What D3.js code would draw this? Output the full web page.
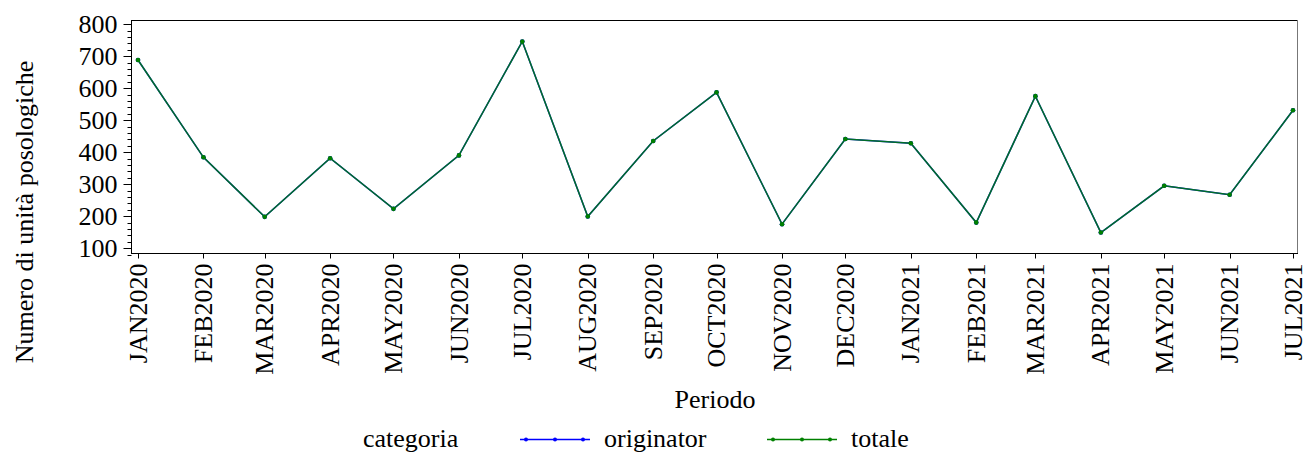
<!DOCTYPE html>
<html><head><meta charset="utf-8">
<script src="https://cdn.jsdelivr.net/npm/d3@7"></script>
<style>body{margin:0;background:#fff}svg{display:block}svg text{font-family:'Liberation Serif','DejaVu Serif',serif;fill:#000}</style>
</head><body>
<script>
const periods = ["JAN2020","FEB2020","MAR2020","APR2020","MAY2020","JUN2020","JUL2020","AUG2020","SEP2020","OCT2020","NOV2020","DEC2020","JAN2021","FEB2021","MAR2021","APR2021","MAY2021","JUN2021","JUL2021"];
const originator = [688,384,198,381,223,390,746,199,435,587,175,441,428,180,575,149,295,267,531];
const totale     = [688,384,198,381,223,390,746,199,435,587,175,441,428,180,575,149,295,267,531];
const yTicks = [100,200,300,400,500,600,700,800];
const seriesNames = ["originator","totale"];
const seriesColors = ["#0000ff","#008000"];

const W = 1303, H = 453;
const FONT = "Liberation Serif, DejaVu Serif, serif";
const frame = {left:131, right:1298, top:20, bottom:253};
const mon = {JAN:0,FEB:1,MAR:2,APR:3,MAY:4,JUN:5,JUL:6,AUG:7,SEP:8,OCT:9,NOV:10,DEC:11};
const parse = s => new Date(+s.slice(3), mon[s.slice(0,3)], 1);
const dates = periods.map(parse);

const svg = d3.select("body").append("svg").attr("width",W).attr("height",H)
  .attr("font-family",FONT);
const x = d3.scaleTime().domain([dates[0], dates[dates.length-1]]).range([138,1293]);
const y = d3.scaleLinear().domain([85,813]).range([frame.bottom, frame.top]);

// frame
svg.append("line").attr("x1",frame.left).attr("x2",frame.right).attr("y1",frame.top+0.5).attr("y2",frame.top+0.5).attr("stroke","#000").attr("stroke-width",1);
svg.append("line").attr("x1",frame.right-0.5).attr("x2",frame.right-0.5).attr("y1",frame.top).attr("y2",frame.bottom).attr("stroke","#777").attr("stroke-width",1);

// y axis
const minorAll = d3.range(80,813,20).filter(v=>v%100!==0);
const gy = svg.append("g").attr("transform",`translate(${frame.left+0.5},0)`);
gy.append("line").attr("y1",frame.top).attr("y2",frame.bottom+1).attr("stroke","#000");
gy.selectAll(".mn").data(minorAll).join("line").attr("x1",-4).attr("x2",0)
  .attr("y1",d=>Math.round(y(d))+0.5).attr("y2",d=>Math.round(y(d))+0.5).attr("stroke","#000");
gy.selectAll(".mj").data(yTicks).join("line").attr("x1",-8).attr("x2",0)
  .attr("y1",d=>Math.round(y(d))+0.5).attr("y2",d=>Math.round(y(d))+0.5).attr("stroke","#000");
gy.selectAll(".lb").data(yTicks).join("text").attr("x",-14).attr("y",d=>y(d)).attr("dy","0.34em")
  .attr("text-anchor","end").attr("font-family",FONT).style("font-size","26px").text(d=>d);

// x axis
const gx = svg.append("g").attr("transform",`translate(0,${frame.bottom+0.5})`);
gx.append("line").attr("x1",frame.left).attr("x2",frame.right).attr("stroke","#000");
gx.selectAll(".t").data(dates).join("line").attr("x1",d=>Math.round(x(d))+0.5).attr("x2",d=>Math.round(x(d))+0.5)
  .attr("y1",0).attr("y2",5).attr("stroke","#000");
gx.selectAll(".l").data(periods).join("text")
  .attr("transform",(d,i)=>`translate(${x(dates[i])},10) rotate(-90)`)
  .attr("text-anchor","end").attr("dy","0.33em").attr("font-family",FONT).style("font-size","26px").text(d=>d);

// axis titles
svg.append("text").attr("transform","translate(33,212) rotate(-90)").attr("text-anchor","middle")
  .attr("font-family",FONT).style("font-size","26px").text("Numero di unità posologiche");
svg.append("text").attr("x",715).attr("y",408).attr("text-anchor","middle").attr("font-family",FONT).style("font-size","26px").text("Periodo");

// series
const series = [originator, totale];
const line = d3.line().x((d,i)=>x(dates[i])).y(d=>y(d));
series.forEach((vals,k)=>{
  svg.append("path").datum(vals).attr("d",line).attr("fill","none")
    .attr("stroke",seriesColors[k]).attr("stroke-width",1.5).attr("stroke-opacity",k===1?0.85:1);
  svg.selectAll(".m"+k).data(vals).join("circle").attr("cx",(d,i)=>x(dates[i])).attr("cy",d=>y(d))
    .attr("r",2.3).attr("fill",seriesColors[k]);
});

// legend
const lg = svg.append("g");
lg.append("text").attr("x",363).attr("y",447).attr("font-family",FONT).style("font-size","26px").text("categoria");
const legX = [520,767];
seriesNames.forEach((n,k)=>{
  const x0 = legX[k];
  lg.append("line").attr("x1",x0).attr("x2",x0+70).attr("y1",439.5).attr("y2",439.5).attr("stroke",seriesColors[k]).attr("stroke-width",1.5);
  [6,35,63].forEach(o=>lg.append("circle").attr("cx",x0+o).attr("cy",439.5).attr("r",2).attr("fill",seriesColors[k]));
  lg.append("text").attr("x",x0+84).attr("y",447).attr("font-family",FONT).style("font-size","26px").text(n);
});
</script>
</body></html>
